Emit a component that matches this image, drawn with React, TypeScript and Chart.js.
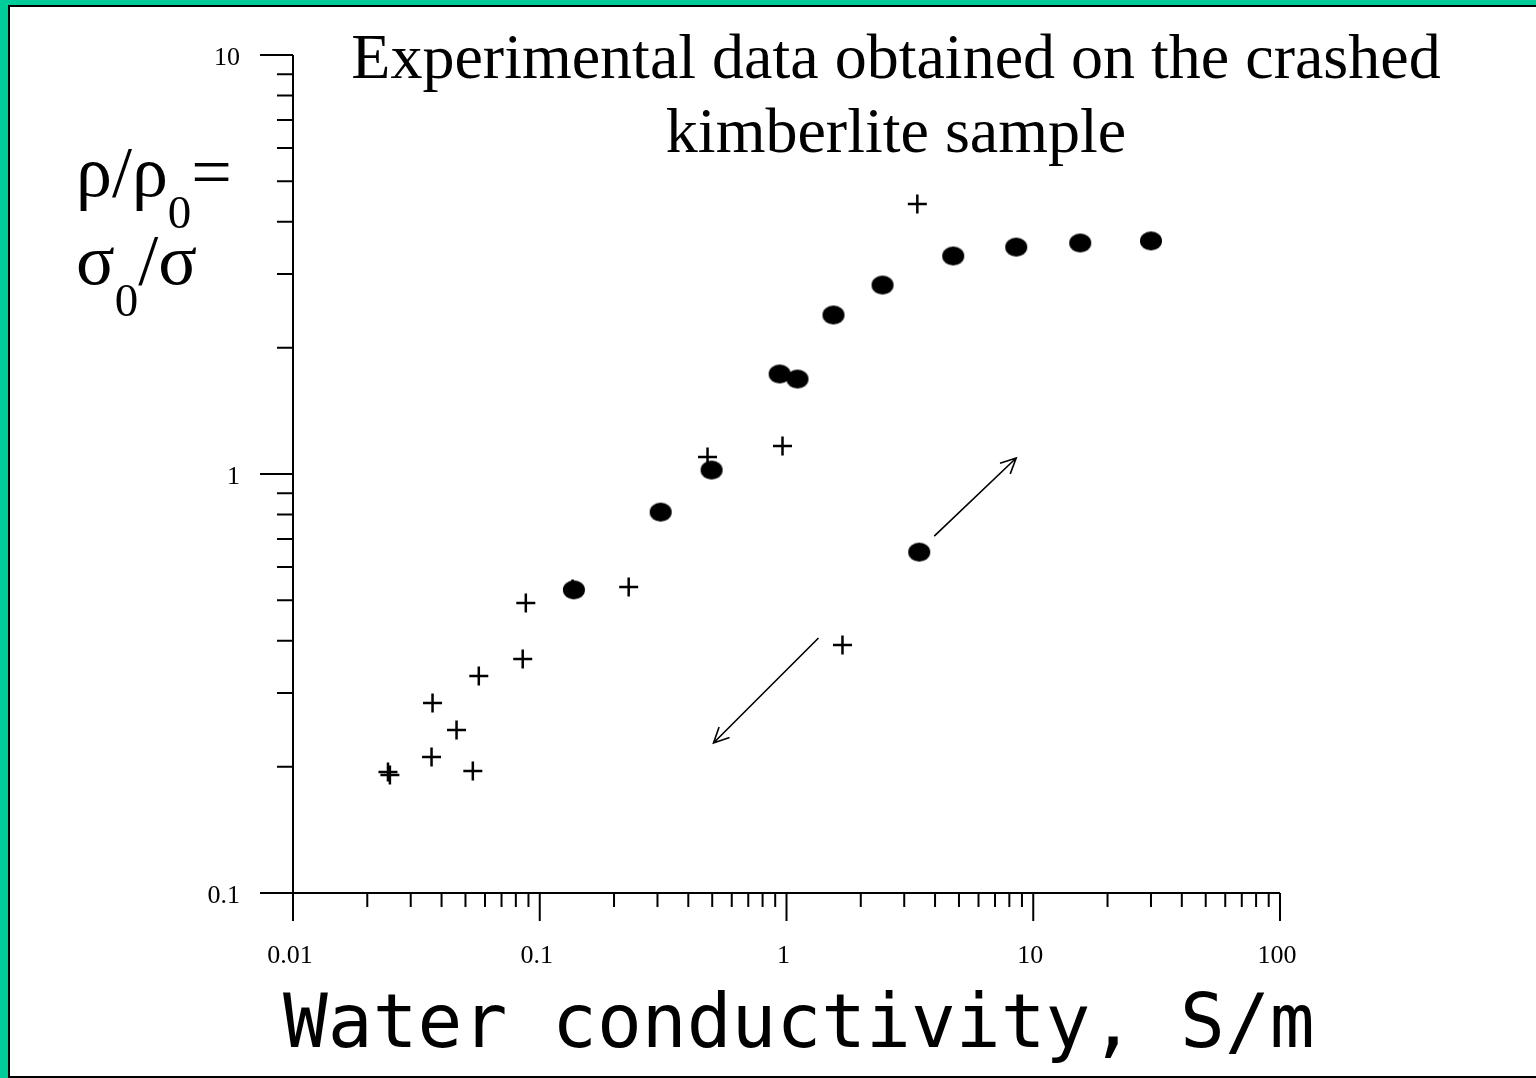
import React, { useEffect, useRef } from 'react';
import { Chart, registerables } from 'chart.js';

Chart.register(...registerables);

// ---- Data ----
// Filled circles: water conductivity (S/m) and rho/rho0
const circleConductivity = [0.1375, 0.309, 0.497, 0.938, 1.108, 1.55, 2.45, 4.74, 8.53, 15.5, 30.0, 3.45];
const circleRatio = [0.529, 0.811, 1.022, 1.733, 1.685, 2.396, 2.825, 3.314, 3.48, 3.56, 3.6, 0.651];

// Crosses
const crossConductivity = [0.02426, 0.0247, 0.03643, 0.03677, 0.046, 0.05355, 0.05662, 0.0853, 0.0878, 0.1358, 0.2293, 0.4786, 0.9634, 1.686, 3.39];
const crossRatio = [0.1944, 0.1913, 0.2112, 0.2841, 0.2449, 0.1955, 0.3296, 0.3618, 0.4922, 0.5316, 0.5375, 1.098, 1.166, 0.391, 4.41];

// Arrows (data coordinates): start and end
const arrowStartX = [3.97, 1.348];
const arrowStartY = [0.711, 0.406];
const arrowEndX = [8.53, 0.506];
const arrowEndY = [1.092, 0.228];

// Axis ticks
const xMajorTicks = [0.01, 0.1, 1, 10, 100];
const xTickLabels = ['0.01', '0.1', '1', '10', '100'];
const yMajorTicks = [0.1, 1, 10];
const yTickLabels = ['0.1', '1', '10'];
const minorMultipliers = [2, 3, 4, 5, 6, 7, 8, 9];

const titleLines = ['Experimental data obtained on the crashed', 'kimberlite sample'];
const xAxisTitle = 'Water conductivity, S/m';

const GREEN = '#00CC99';

const decorPlugin = {
  id: 'decor',
  beforeDraw(chart: any) {
    const { ctx, width, height } = chart;
    ctx.save();
    ctx.fillStyle = '#ffffff';
    ctx.fillRect(0, 0, width, height);
    ctx.fillStyle = GREEN;
    ctx.fillRect(0, 0, width, 5);
    ctx.fillRect(0, 0, 8, height);
    ctx.fillStyle = '#000000';
    ctx.fillRect(8, 5, width - 8, 2);
    ctx.fillRect(8, 5, 2, height - 5);
    ctx.fillRect(8, height - 2, width - 8, 2);
    ctx.restore();
  },
  beforeDatasetsDraw(chart: any) {
    const { ctx } = chart;
    const xs = chart.scales.x;
    const ys = chart.scales.y;
    const left = xs.left;
    const right = xs.right;
    const bottom = ys.bottom;
    const top = ys.top;
    const yMajorLen = 33, yMinorLen = 16, xMajorLen = 28, xMinorLen = 14;

    ctx.save();
    ctx.strokeStyle = '#000';
    ctx.lineWidth = 2;
    ctx.beginPath();
    ctx.moveTo(left, top);
    ctx.lineTo(left, bottom);
    ctx.moveTo(left, bottom);
    ctx.lineTo(right, bottom);
    yMajorTicks.forEach((v, i) => {
      const py = ys.getPixelForValue(v);
      ctx.moveTo(left - yMajorLen, py);
      ctx.lineTo(left, py);
      if (i < yMajorTicks.length - 1) {
        minorMultipliers.forEach((m) => {
          const p = ys.getPixelForValue(v * m);
          ctx.moveTo(left - yMinorLen, p);
          ctx.lineTo(left, p);
        });
      }
    });
    xMajorTicks.forEach((v, i) => {
      const px = xs.getPixelForValue(v);
      ctx.moveTo(px, bottom);
      ctx.lineTo(px, bottom + xMajorLen);
      if (i < xMajorTicks.length - 1) {
        minorMultipliers.forEach((m) => {
          const p = xs.getPixelForValue(v * m);
          ctx.moveTo(p, bottom);
          ctx.lineTo(p, bottom + xMinorLen);
        });
      }
    });
    ctx.stroke();

    // tick labels
    ctx.fillStyle = '#000';
    ctx.font = '26px "Liberation Serif", "Times New Roman", serif';
    ctx.textAlign = 'right';
    ctx.textBaseline = 'middle';
    yMajorTicks.forEach((v, i) => {
      ctx.fillText(yTickLabels[i], left - 53, ys.getPixelForValue(v) + 3);
    });
    ctx.textAlign = 'center';
    ctx.textBaseline = 'alphabetic';
    xMajorTicks.forEach((v, i) => {
      ctx.fillText(xTickLabels[i], xs.getPixelForValue(v) - 3, bottom + 70);
    });

    // chart title
    ctx.font = '64px "Liberation Serif", "Times New Roman", serif';
    ctx.textAlign = 'center';
    ctx.fillText(titleLines[0], 896, 78);
    ctx.fillText(titleLines[1], 896, 152);

    // x axis title
    ctx.font = '74.5px "DejaVu Sans Mono", monospace';
    ctx.textAlign = 'left';
    ctx.fillText(xAxisTitle, 283, 1047);

    // y axis title (with subscripts)
    const mainFont = '72px "Liberation Serif", "Times New Roman", serif';
    const subFont = '47px "Liberation Serif", "Times New Roman", serif';
    const drawRun = (parts: [string, boolean][], x: number, base: number) => {
      let cx = x;
      parts.forEach(([t, sub]) => {
        ctx.font = sub ? subFont : mainFont;
        ctx.fillText(t, cx, sub ? base + 32 : base);
        cx += ctx.measureText(t).width;
      });
    };
    ctx.textAlign = 'left';
    drawRun([['ρ/ρ', false], ['0', true], ['=', false]], 76, 196);
    drawRun([['σ', false], ['0', true], ['/σ', false]], 76, 284);

    // arrows
    ctx.lineWidth = 1.6;
    arrowStartX.forEach((sx, i) => {
      const x1 = xs.getPixelForValue(sx);
      const y1 = ys.getPixelForValue(arrowStartY[i]);
      const x2 = xs.getPixelForValue(arrowEndX[i]);
      const y2 = ys.getPixelForValue(arrowEndY[i]);
      const ang = Math.atan2(y2 - y1, x2 - x1);
      const head = 17;
      const spread = 0.45;
      ctx.beginPath();
      ctx.moveTo(x1, y1);
      ctx.lineTo(x2, y2);
      ctx.moveTo(x2 - head * Math.cos(ang - spread), y2 - head * Math.sin(ang - spread));
      ctx.lineTo(x2, y2);
      ctx.lineTo(x2 - head * Math.cos(ang + spread), y2 - head * Math.sin(ang + spread));
      ctx.stroke();
    });
    ctx.restore();
  },
};

export default function App() {
  const canvasRef = useRef<HTMLCanvasElement | null>(null);

  useEffect(() => {
    const canvas = canvasRef.current;
    if (!canvas) return;

    // elliptical filled dot marker
    const dot = document.createElement('canvas');
    dot.width = 24;
    dot.height = 21;
    const dctx = dot.getContext('2d')!;
    dctx.fillStyle = '#000';
    dctx.beginPath();
    dctx.ellipse(12, 10.5, 11, 9.5, 0, 0, Math.PI * 2);
    dctx.fill();

    const chart = new Chart(canvas, {
      type: 'scatter',
      data: {
        datasets: [
          {
            label: 'circles',
            data: circleConductivity.map((x, i) => ({ x, y: circleRatio[i] })),
            pointStyle: dot as any,
            pointRadius: 11,
            backgroundColor: '#000',
            borderColor: '#000',
          },
          {
            label: 'crosses',
            data: crossConductivity.map((x, i) => ({ x, y: crossRatio[i] })),
            pointStyle: 'cross',
            pointRadius: 9.5,
            borderWidth: 2.5,
            borderColor: '#000',
            backgroundColor: '#000',
          },
        ],
      },
      options: {
        responsive: false,
        animation: false,
        events: [],
        layout: { padding: { left: 293, top: 55, right: 256, bottom: 185 } },
        scales: {
          x: { type: 'logarithmic', min: 0.01, max: 100, display: false },
          y: { type: 'logarithmic', min: 0.1, max: 10, display: false },
        },
        plugins: {
          legend: { display: false },
          tooltip: { enabled: false },
          title: { display: false },
        },
      },
      plugins: [decorPlugin],
    } as any);

    return () => chart.destroy();
  }, []);

  return (
    <div style={{ position: 'absolute', left: 0, top: 0, width: 1536, height: 1078 }}>
      <canvas ref={canvasRef} width={1536} height={1078} style={{ display: 'block' }} />
    </div>
  );
}
